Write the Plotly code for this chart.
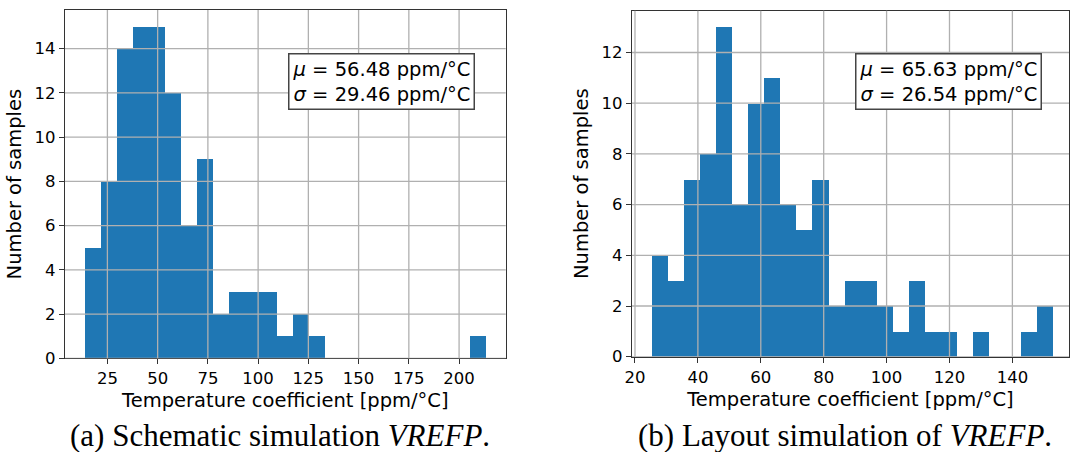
import numpy as np
import plotly.graph_objects as go

# ---------------- data ----------------
# (a) Schematic simulation: 25 equal bins between min and max sample
a_range = (13.9, 213.2)
a_counts = [5, 8, 14, 15, 15, 12, 6, 9, 2, 3, 3, 3, 1, 2, 1,
            0, 0, 0, 0, 0, 0, 0, 0, 0, 1]
a_mu, a_sigma = 56.48, 29.46
a_xticks = [25, 50, 75, 100, 125, 150, 175, 200]
a_yticks = [0, 2, 4, 6, 8, 10, 12, 14]

# (b) Layout simulation: 25 equal bins
b_range = (25.46, 152.9)
b_counts = [4, 3, 7, 8, 13, 6, 10, 11, 6, 5, 7, 2, 3, 3, 2,
            1, 3, 1, 1, 0, 1, 0, 0, 1, 2]
b_mu, b_sigma = 65.63, 26.54
b_xticks = [20, 40, 60, 80, 100, 120, 140]
b_yticks = [0, 2, 4, 6, 8, 10, 12]

x_label = "Temperature coefficient [ppm/°C]"
y_label = "Number of samples"
captions = ["(a) Schematic simulation <i>VREFP</i>.",
            "(b) Layout simulation of <i>VREFP</i>."]

# ---------------- figure ----------------
W, H = 1070, 452
BLUE = "#1f77b4"
GRID = "#b0b0b0"
SPINE = "#333333"
SANS = "DejaVu Sans"

fig = go.Figure()


def bins(rng, counts):
    edges = np.linspace(rng[0], rng[1], len(counts) + 1)
    centers = (edges[:-1] + edges[1:]) / 2
    return centers, edges[1] - edges[0]


for (rng, counts, xa, ya) in [(a_range, a_counts, "x", "y"),
                              (b_range, b_counts, "x2", "y2")]:
    c, w = bins(rng, counts)
    fig.add_trace(go.Bar(x=c, y=counts, width=w, xaxis=xa, yaxis=ya,
                         marker=dict(color=BLUE, line=dict(width=0)),
                         showlegend=False, hoverinfo="x+y"))

# axis domains in pixels
dom = {
    "a": dict(x=(65, 505.7), y=(358.3, 10.0)),
    "b": dict(x=(632, 1069), y=(356.7, 10.7)),
}


def xd(p):
    return (p[0] / W, p[1] / W)


def yd(p):
    return ((H - p[0]) / H, (H - p[1]) / H)


common_axis = dict(showgrid=False, zeroline=False, showline=True, mirror=True,
                   automargin=False,
                   linecolor=SPINE, linewidth=1.3, ticks="outside", ticklen=5,
                   tickwidth=1.3, tickcolor=SPINE, layer="above traces",
                   tickfont=dict(family=SANS, size=16.5, color="black"))

fig.update_layout(
    width=W, height=H, margin=dict(l=0, r=0, t=0, b=0, autoexpand=False),
    paper_bgcolor="white", plot_bgcolor="white", bargap=0,
    xaxis=dict(domain=xd(dom["a"]["x"]), range=[3.9, 223.2],
               tickvals=a_xticks, anchor="y",
               title=dict(text=x_label, standoff=6,
                          font=dict(family=SANS, size=19.5, color="black")),
               **common_axis),
    yaxis=dict(domain=yd(dom["a"]["y"]), range=[0, 15.75],
               tickvals=a_yticks, anchor="x",
               title=dict(text=y_label, standoff=7,
                          font=dict(family=SANS, size=19.5, color="black")),
               **common_axis),
    xaxis2=dict(domain=xd(dom["b"]["x"]), range=[19.05, 158.0],
                tickvals=b_xticks, anchor="y2",
                title=dict(text=x_label, standoff=6,
                           font=dict(family=SANS, size=19.5, color="black")),
                **common_axis),
    yaxis2=dict(domain=yd(dom["b"]["y"]), range=[0, 13.65],
                tickvals=b_yticks, anchor="x2",
                title=dict(text=y_label, standoff=7,
                           font=dict(family=SANS, size=19.5, color="black")),
                **common_axis),
)

# grid lines drawn above the bars (as matplotlib does)
for xa, ya, xt, yt in [("x", "y", a_xticks, a_yticks),
                       ("x2", "y2", b_xticks, b_yticks)]:
    for v in xt:
        fig.add_shape(type="line", xref=xa, yref=ya + " domain", x0=v, x1=v,
                      y0=0, y1=1, layer="above",
                      line=dict(color=GRID, width=1.3))
    for v in yt:
        fig.add_shape(type="line", xref=xa + " domain", yref=ya, x0=0, x1=1,
                      y0=v, y1=v, layer="above",
                      line=dict(color=GRID, width=1.3))

# stats boxes
for xa, ya, mu, sg, xr in [("x", "y", a_mu, a_sigma, 0.931),
                           ("x2", "y2", b_mu, b_sigma, 0.939)]:
    fig.add_annotation(
        xref=xa + " domain", yref=ya + " domain", x=xr, y=0.877,
        xanchor="right", yanchor="top", showarrow=False, align="center",
        text=f"<i>μ</i> = {mu:.2f} ppm/°C<br><i>σ</i> = {sg:.2f} ppm/°C",
        font=dict(family=SANS, size=19.5, color="black"),
        bgcolor="white", bordercolor="#444444", borderwidth=1.5, borderpad=3)

# sub-captions
for cx, txt in [(280, captions[0]), (845, captions[1])]:
    fig.add_annotation(
        xref="paper", yref="paper", x=cx / W, y=(H - 435) / H,
        xanchor="center", yanchor="middle", showarrow=False, text=txt,
        font=dict(family="Liberation Serif", size=31, color="black"))

fig.write_html(
    "out.html",
    config={"displayModeBar": False},
    post_script="document.body.style.margin='0';"
                "document.body.style.overflow='hidden';")
